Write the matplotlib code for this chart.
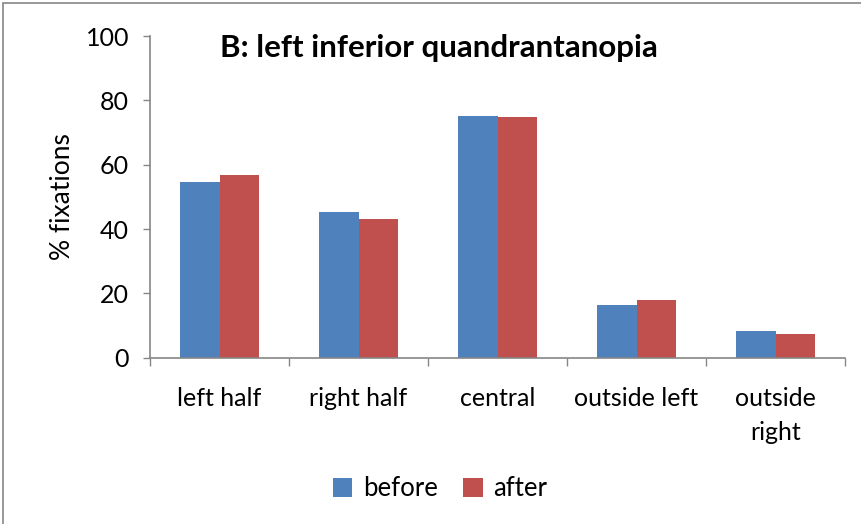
import matplotlib
matplotlib.use("Agg")
import matplotlib.pyplot as plt
import numpy as np
from matplotlib.patches import Rectangle

categories = ["left half", "right half", "central", "outside left", "outside\nright"]
before = [54.6, 45.2, 75.2, 16.3, 8.2]
after = [56.7, 43.1, 74.8, 18.0, 7.3]
yticks = [0, 20, 40, 60, 80, 100]

plt.rcParams['font.family'] = ['Lato', 'DejaVu Sans']

fig = plt.figure(figsize=(8.61, 5.24), dpi=100)
ax = fig.add_axes([150/861, 1-357.7/524, 695/861, 321.7/524])

x = np.arange(len(categories))
w = 0.284
ax.bar(x - w/2, before, w, color="#4F81BD", label="before")
ax.bar(x + w/2, after, w, color="#C0504D", label="after")

ax.set_xlim(-0.5, len(categories) - 0.5)
ax.set_ylim(0, 100)
ax.set_yticks(yticks)
ax.set_yticklabels([str(v) for v in yticks], fontsize=18)
ax.set_xticks(x)
ax.set_xticklabels(categories, fontsize=18, linespacing=1.6, va="top")
ax.set_xticks(np.arange(len(categories) + 1) - 0.5, minor=True)
ax.tick_params(axis="x", which="major", length=0, pad=21)
ax.tick_params(axis="x", which="minor", length=6, color="#868686", width=1)
ax.tick_params(axis="y", length=5, color="#868686", width=1, pad=10)
for s in ["top", "right"]:
    ax.spines[s].set_visible(False)
for s in ["left", "bottom"]:
    ax.spines[s].set_color("#868686")
    ax.spines[s].set_linewidth(1.2)

ax.set_ylabel("% fixations", fontsize=19, labelpad=8)

fig.text(439/861, 1-48/524, "B: left inferior quandrantanopia", fontsize=22.5,
         fontweight="bold", ha="center", va="center")

ax.legend(loc="center", bbox_to_anchor=(440/861, 1-489/524), bbox_transform=fig.transFigure,
          ncol=2, frameon=False, fontsize=18.5, handlelength=0.75, handleheight=0.75,
          handletextpad=0.4, columnspacing=1.0)

fig.add_artist(Rectangle((3/861, -0.01), 1.1, 1 - 3/524 + 0.01, transform=fig.transFigure,
                         fill=False, edgecolor="#868686", linewidth=1.2))

fig.savefig("out.png", dpi=100)
